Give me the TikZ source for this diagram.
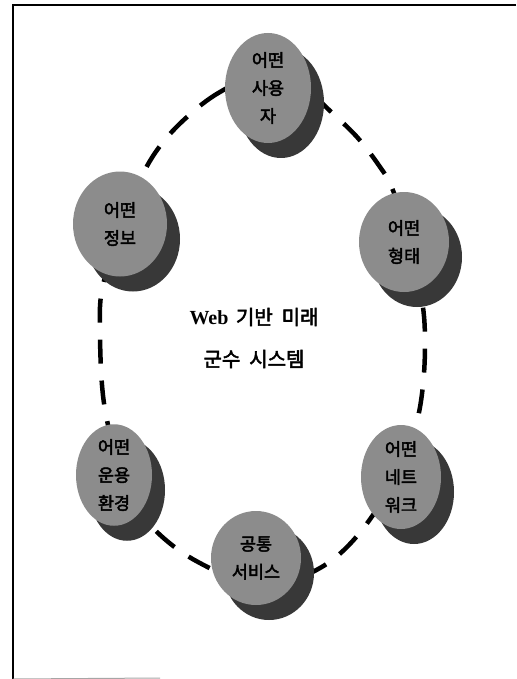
\documentclass[tikz,border=0pt]{standalone}
\usepackage{fontspec}
\newfontfamily\kr[AutoFakeBold=2.5]{Noto Sans CJK KR}
\newfontfamily\webfont{Liberation Serif}
\usetikzlibrary{shapes.geometric,shadows}
\tikzset{
  disk/.style={ellipse, fill=black!45, inner sep=0pt, align=center,
    font=\kr\bfseries\fontsize{17.5}{28}\selectfont,
    drop shadow={shadow xshift=13pt, shadow yshift=-15pt, fill=black!78, opacity=1}},
  loop/.style={line width=4.5pt, dash pattern=on 24pt off 17pt},
  frameline/.style={line width=2pt}
}
\begin{document}
\begin{tikzpicture}[x=1pt,y=-1pt]
\useasboundingbox (0,0) rectangle (516,679);
% frame
\coordinate (tl) at (13,5);
\coordinate (tr) at (516,5);
\coordinate (bl) at (13,679);
\coordinate (bm) at (160,678);
\draw[frameline] (tr) -- (tl) -- (bl);
\draw[black!35, line width=1pt] (bl) -- (bm);
% dashed loop
\draw[loop] plot[smooth cycle, tension=0.6] coordinates {
 (268,70) (220,92) (187,117) (160,146) (140,180) (118,235) (102,290)
 (100,330) (102,385) (108,425) (122,480) (142,515) (167,541) (198,562)
 (240,580) (285,582) (320,568) (347,547) (373,515) (400,470) (416,425)
 (423,385) (425,340) (422,300) (410,240) (392,188) (380,167) (357,137)
 (327,108) (300,82)};
% disks
\node[disk, minimum width=86pt, minimum height=110pt] (user) at (268,88) {어떤\\사용\\자};
\node[disk, minimum width=90pt, minimum height=100pt] (form) at (404,242) {어떤\\형태};
\node[disk, minimum width=94pt, minimum height=105pt] (info) at (120,224) {어떤\\정보};
\node[disk, minimum width=76pt, minimum height=100pt] (ops) at (114,475) {어떤\\운용\\환경};
\node[disk, minimum width=80pt, minimum height=104pt] (net) at (401,477) {어떤\\네트\\워크};
\node[disk, minimum width=90pt, minimum height=94pt] (svc) at (256,558) {공통\\서비스};
% centre text
\node[font=\bfseries\fontsize{20}{42}\selectfont, align=center] (title) at (254,338)
  {{\webfont Web} {\kr 기반\ \ 미래}\\{\kr 군수\ \ 시스템}};
\end{tikzpicture}
\end{document}
